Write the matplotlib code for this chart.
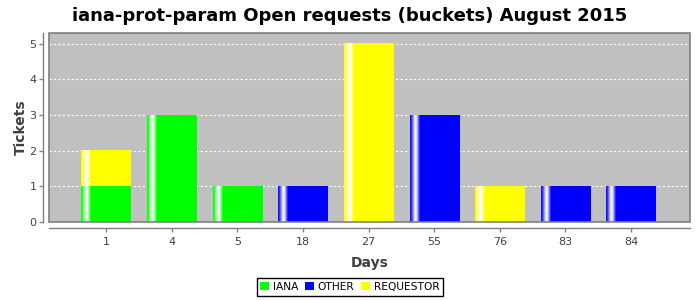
import numpy as np
import matplotlib
matplotlib.use("Agg")
import matplotlib.pyplot as plt
from matplotlib.patches import Patch, Rectangle
from matplotlib.colors import to_rgb

title = "iana-prot-param Open requests (buckets) August 2015"
days = ['1', '4', '5', '18', '27', '55', '76', '83', '84']
iana = [1, 3, 1, 0, 0, 0, 0, 0, 0]
other = [0, 0, 0, 1, 0, 3, 0, 1, 1]
requestor = [1, 0, 0, 0, 5, 0, 1, 0, 0]
series_names = ['IANA', 'OTHER', 'REQUESTOR']
series_colors = ['#00FF00', '#0000FF', '#FFFF00']

fig = plt.figure(figsize=(7, 3), dpi=100)
ax = fig.add_axes([49/700, 1-222/300, (690-49)/700, (222-33)/300])
ax.set_facecolor('#C0C0C0')

x = np.arange(len(days))
bottom = np.zeros(len(days))
width = 0.75

def gradient_row(color, n=200):
    c = np.array(to_rgb(color))
    t = np.linspace(0, 1, n)
    w = np.interp(t, [0, 0.03, 0.1, 0.13, 0.2, 1.0], [0, 0.2, 1, 0.9, 0, 0])
    row = c[None, :] * (1 - w[:, None]) + w[:, None]
    return row[None, :, :]

for vals, name, col in zip([iana, other, requestor], series_names, series_colors):
    vals = np.array(vals, dtype=float)
    bars = ax.bar(x, vals, width=width, bottom=bottom, color=col, zorder=2, linewidth=0)
    for b, v in zip(bars, vals):
        if v <= 0:
            continue
        x0, y0 = b.get_x(), b.get_y()
        ax.imshow(gradient_row(col), extent=[x0, x0 + b.get_width(), y0, y0 + b.get_height()],
                  aspect='auto', interpolation='bilinear', zorder=3)
    bottom += vals

ax.set_xlim(-0.87, len(days) - 1 + 0.9)
ax.set_ylim(0, 5.3)
ax.set_yticks(range(0, 6))
ax.set_xticks(x)
ax.set_xticklabels(days)
ax.yaxis.grid(True, color='white', linestyle=(0, (2, 2)), linewidth=0.8, zorder=1)
ax.set_axisbelow(True)

for s in ['top', 'right']:
    ax.spines[s].set_visible(False)
for s in ['left', 'bottom']:
    ax.spines[s].set_position(('outward', 4))
    ax.spines[s].set_color('#808080')
    ax.spines[s].set_linewidth(1)
ax.add_patch(Rectangle((0, 0), 1, 1, transform=ax.transAxes, fill=False,
                       edgecolor='#808080', linewidth=1.2, clip_on=False, zorder=5))

ax.tick_params(axis='both', colors='#808080', labelcolor='#404040', labelsize=8, length=3, width=1)
ax.tick_params(axis='y', pad=2)
ax.set_ylabel('Tickets', fontsize=10, fontweight='bold', color='#404040', labelpad=1)
ax.set_xlabel('Days', fontsize=10, fontweight='bold', color='#404040', labelpad=7)

fig.suptitle(title, fontsize=13, fontweight='bold', x=0.5, y=0.978, va='top')

handles = [Patch(facecolor=c, edgecolor='none') for c in series_colors]
leg = fig.legend(handles, series_names, loc='center', bbox_to_anchor=(350/700, 1-287/300),
                 ncol=3, frameon=True, fancybox=False, framealpha=1, edgecolor='black',
                 fontsize=7.7, handlelength=0.8, handleheight=0.8, handletextpad=0.4,
                 columnspacing=0.6, borderpad=0.35, borderaxespad=0)
leg.get_frame().set_linewidth(1)

fig.savefig('out.png', dpi=100)
